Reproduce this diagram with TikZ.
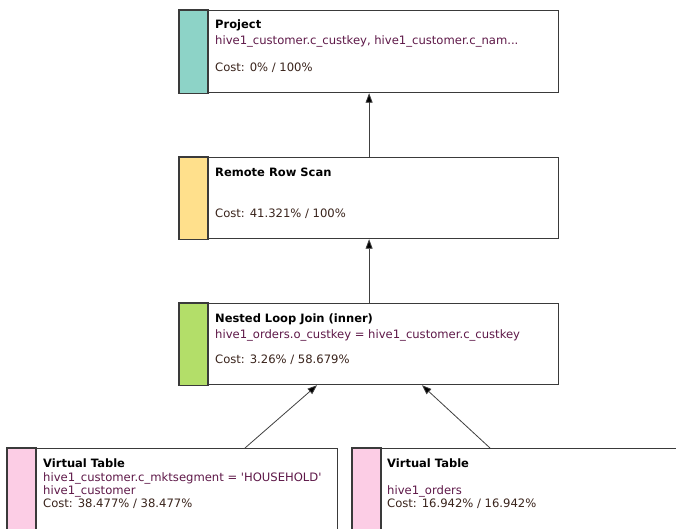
\documentclass[tikz,border=0pt]{standalone}
\usepackage{fontspec}
\setmainfont{DejaVu Sans}
\usetikzlibrary{arrows.meta,calc}

\definecolor{stripTeal}{HTML}{8DD3C7}
\definecolor{stripYellow}{HTML}{FFE08C}
\definecolor{stripGreen}{HTML}{B3DE69}
\definecolor{stripPink}{HTML}{FCCDE5}
\definecolor{boxEdge}{HTML}{3A3A3A}
\definecolor{detailText}{HTML}{5E1848}
\definecolor{costText}{HTML}{3A241C}

\tikzset{
  opbox/.style={draw=boxEdge, line width=1.2pt, fill=white, rectangle,
    anchor=north west, inner sep=0pt, minimum width=#1},
  opbox/.default=379pt,
  band/.style={fill=#1, draw=boxEdge, line width=1.2pt},
  titletext/.style={anchor=base west, inner sep=0pt, font=\fontsize{11.5}{13}\selectfont\bfseries},
  detailtext/.style={anchor=base west, inner sep=0pt, text=detailText, font=\fontsize{11.6}{13}\selectfont},
  costtext/.style={anchor=base west, inner sep=0pt, text=costText, font=\fontsize{11.6}{13}\selectfont},
  flow/.style={draw=black!75, line width=0.8pt, -{Triangle[width=7pt,length=9.5pt,fill=black]}}
}

\begin{document}
\begin{tikzpicture}[x=1pt,y=1pt]
  \useasboundingbox (0,0) rectangle (676,-529);
  \fill[white] (0,0) rectangle (676,-529);
  \clip (0,0) rectangle (676,-529);

  % operator boxes
  \node[opbox, minimum height=82pt] (project) at (179,-10) {};
  \node[opbox, minimum height=81pt] (remote)  at (179,-157) {};
  \node[opbox, minimum height=81pt] (join)    at (179,-303) {};
  \node[opbox=330pt, minimum height=120pt] (vtl) at (7,-448) {};
  \node[opbox=400pt, minimum height=120pt] (vtr) at (352,-448) {};

  % coloured bands on the left edge of each box
  \draw[band=stripTeal]   (project.north west) rectangle ([xshift=29pt]project.south west);
  \draw[band=stripYellow] (remote.north west)  rectangle ([xshift=29pt]remote.south west);
  \draw[band=stripGreen]  (join.north west)    rectangle ([xshift=29pt]join.south west);
  \draw[band=stripPink]   (vtl.north west)     rectangle ([xshift=29pt]vtl.south west);
  \draw[band=stripPink]   (vtr.north west)     rectangle ([xshift=29pt]vtr.south west);

  % Project
  \node[titletext]  (projectT) at (215,-29) {Project};
  \node[detailtext] (projectD) at (215,-45) {hive1\_customer.c\_custkey, hive1\_customer.c\_nam...};
  \node[costtext]   (projectC) at (215,-72) {Cost: 0\% / 100\%};

  % Remote Row Scan
  \node[titletext]  (remoteT) at (215,-177) {Remote Row Scan};
  \node[costtext]   (remoteC) at (215,-218) {Cost: 41.321\% / 100\%};

  % Nested Loop Join
  \node[titletext]  (joinT) at (215,-322) {Nested Loop Join (inner)};
  \node[detailtext] (joinD) at (215,-338) {hive1\_orders.o\_custkey = hive1\_customer.c\_custkey};
  \node[costtext]   (joinC) at (215,-363) {Cost: 3.26\% / 58.679\%};

  % Virtual Table (customer)
  \node[titletext]  (vtlT)  at (43,-467) {Virtual Table};
  \node[detailtext] (vtlD1) at (43,-481) {hive1\_customer.c\_mktsegment = \textquotesingle HOUSEHOLD\textquotesingle};
  \node[detailtext] (vtlD2) at (43,-494) {hive1\_customer};
  \node[costtext]   (vtlC)  at (43,-507) {Cost: 38.477\% / 38.477\%};

  % Virtual Table (orders)
  \node[titletext]  (vtrT)  at (387,-467) {Virtual Table};
  \node[detailtext] (vtrD)  at (387,-494) {hive1\_orders};
  \node[costtext]   (vtrC)  at (387,-507) {Cost: 16.942\% / 16.942\%};

  % data flow
  \draw[flow] (remote.north) -- (project.south);
  \draw[flow] (join.north) -- (remote.south);
  \draw[flow] ([xshift=238pt]vtl.north west) -- ([xshift=138pt]join.south west);
  \draw[flow] ([xshift=138pt]vtr.north west) -- ([xshift=243pt]join.south west);
\end{tikzpicture}
\end{document}
